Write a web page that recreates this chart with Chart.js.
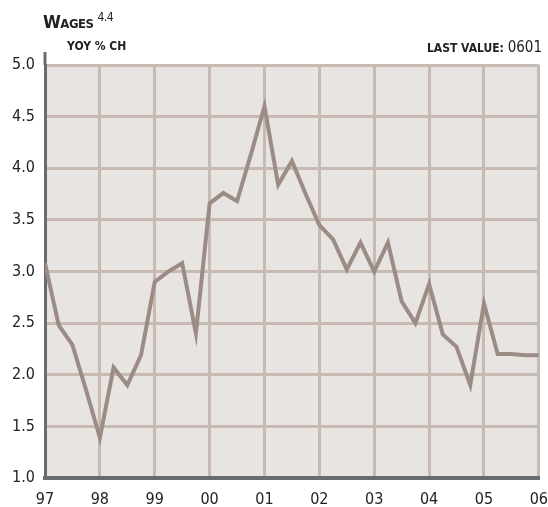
<!DOCTYPE html>
<html>
<head>
<meta charset="utf-8">
<script src="https://cdn.jsdelivr.net/npm/chart.js@4/dist/chart.umd.min.js"></script>
<style>
	body { margin: 0; width: 548px; height: 507px; overflow: hidden; position: relative; background: #fff;
		font-family: 'Liberation Sans Narrow', 'DejaVu Sans Condensed', sans-serif; color: #222; }
	#wrap { position: absolute; left: 0; top: 0; width: 560px; height: 507px; }
	.lbl { position: absolute; white-space: nowrap; }
	#titre { left: 43px; top: 10px; font-size: 18px; font-variant: small-caps; font-weight: bold; letter-spacing: -0.5px; }
	#titre sup { font-size: 12px; font-variant: normal; font-weight: normal; margin-left: 4px; }
	#sous { left: 67px; top: 39px; font-size: 12px; font-weight: bold; }
	#dernier { right: 6px; top: 38px; font-size: 12px; font-weight: bold; }
	#dernier span { font-size: 15px; font-weight: normal; }
</style>
</head>
<body>
<div id="wrap"><canvas id="grafico" width="560" height="507"></canvas></div>
<div class="lbl" id="titre">Wages<sup>4.4</sup></div>
<div class="lbl" id="sous">YOY % CH</div>
<div class="lbl" id="dernier">LAST VALUE: <span>0601</span></div>
<script>
// quarterly yoy % change, 97Q1 .. 06Q1
const valores = [
	3.08, 2.48, 2.29, 1.85,
	1.39, 2.07, 1.90, 2.19,
	2.90, 3.00, 3.08, 2.40,
	3.66, 3.76, 3.68, 4.13,
	4.60, 3.84, 4.07, 3.75,
	3.45, 3.31, 3.02, 3.28,
	3.00, 3.28, 2.71, 2.50,
	2.88, 2.39, 2.27, 1.90,
	2.69, 2.20, 2.20, 2.19,
	2.19
];
const anos = ['97', '98', '99', '00', '01', '02', '03', '04', '05', '06'];
const yTicks = [1.0, 1.5, 2.0, 2.5, 3.0, 3.5, 4.0, 4.5, 5.0];

const corFundo = '#e8e4e1';
const corGrade = '#c6bab2';
const corLinha = '#9b8c86';
const corEixo = '#6a6b6d';
const corTexto = '#222222';
const fonte = { family: "'Liberation Sans Narrow', 'DejaVu Sans Condensed', sans-serif", size: 16 };

const pontos = valores.map((v, i) => ({ x: i, y: v }));

const fundoPlugin = {
	id: 'fundo',
	beforeDraw(chart) {
		const { ctx, chartArea: a } = chart;
		ctx.save();
		ctx.fillStyle = corFundo;
		ctx.fillRect(a.left, a.top, a.right - a.left, a.bottom - a.top);
		ctx.restore();
	},
	afterDraw(chart) {
		// left axis sticks out above the plot
		const { ctx, chartArea: a } = chart;
		ctx.save();
		ctx.strokeStyle = corEixo;
		ctx.lineWidth = 3;
		ctx.beginPath();
		ctx.moveTo(a.left, a.top);
		ctx.lineTo(a.left, a.top - 13);
		ctx.stroke();
		ctx.restore();
	}
};

new Chart(document.getElementById('grafico').getContext('2d'), {
	type: 'line',
	data: {
		datasets: [{
			data: pontos,
			borderColor: corLinha,
			borderWidth: 4,
			pointRadius: 0,
			tension: 0,
			fill: false
		}]
	},
	options: {
		responsive: false,
		animation: false,
		layout: { padding: { left: 0, top: 65, right: 20, bottom: 0 } },
		scales: {
			x: {
				type: 'linear',
				min: 0,
				max: (anos.length - 1) * 4,
				afterFit: (s) => { s.height = 29; },
				afterBuildTicks: (s) => { s.ticks = anos.map((_, i) => ({ value: i * 4 })); },
				ticks: {
					autoSkip: false,
					maxRotation: 0,
					padding: 12,
					color: corTexto,
					font: fonte,
					callback: (v) => anos[v / 4]
				},
				grid: { color: corGrade, lineWidth: 3, drawTicks: false },
				border: { display: true, color: corEixo, width: 4 }
			},
			y: {
				min: 1,
				max: 5,
				afterFit: (s) => { s.width = 45; },
				afterBuildTicks: (s) => { s.ticks = yTicks.map(v => ({ value: v })); },
				ticks: {
					padding: 10,
					color: corTexto,
					font: fonte,
					callback: (v) => v.toFixed(1)
				},
				grid: { color: corGrade, lineWidth: 3, drawTicks: false },
				border: { display: true, color: corEixo, width: 3 }
			}
		},
		plugins: {
			legend: { display: false },
			tooltip: { enabled: false }
		}
	},
	plugins: [fundoPlugin]
});
</script>
</body>
</html>
